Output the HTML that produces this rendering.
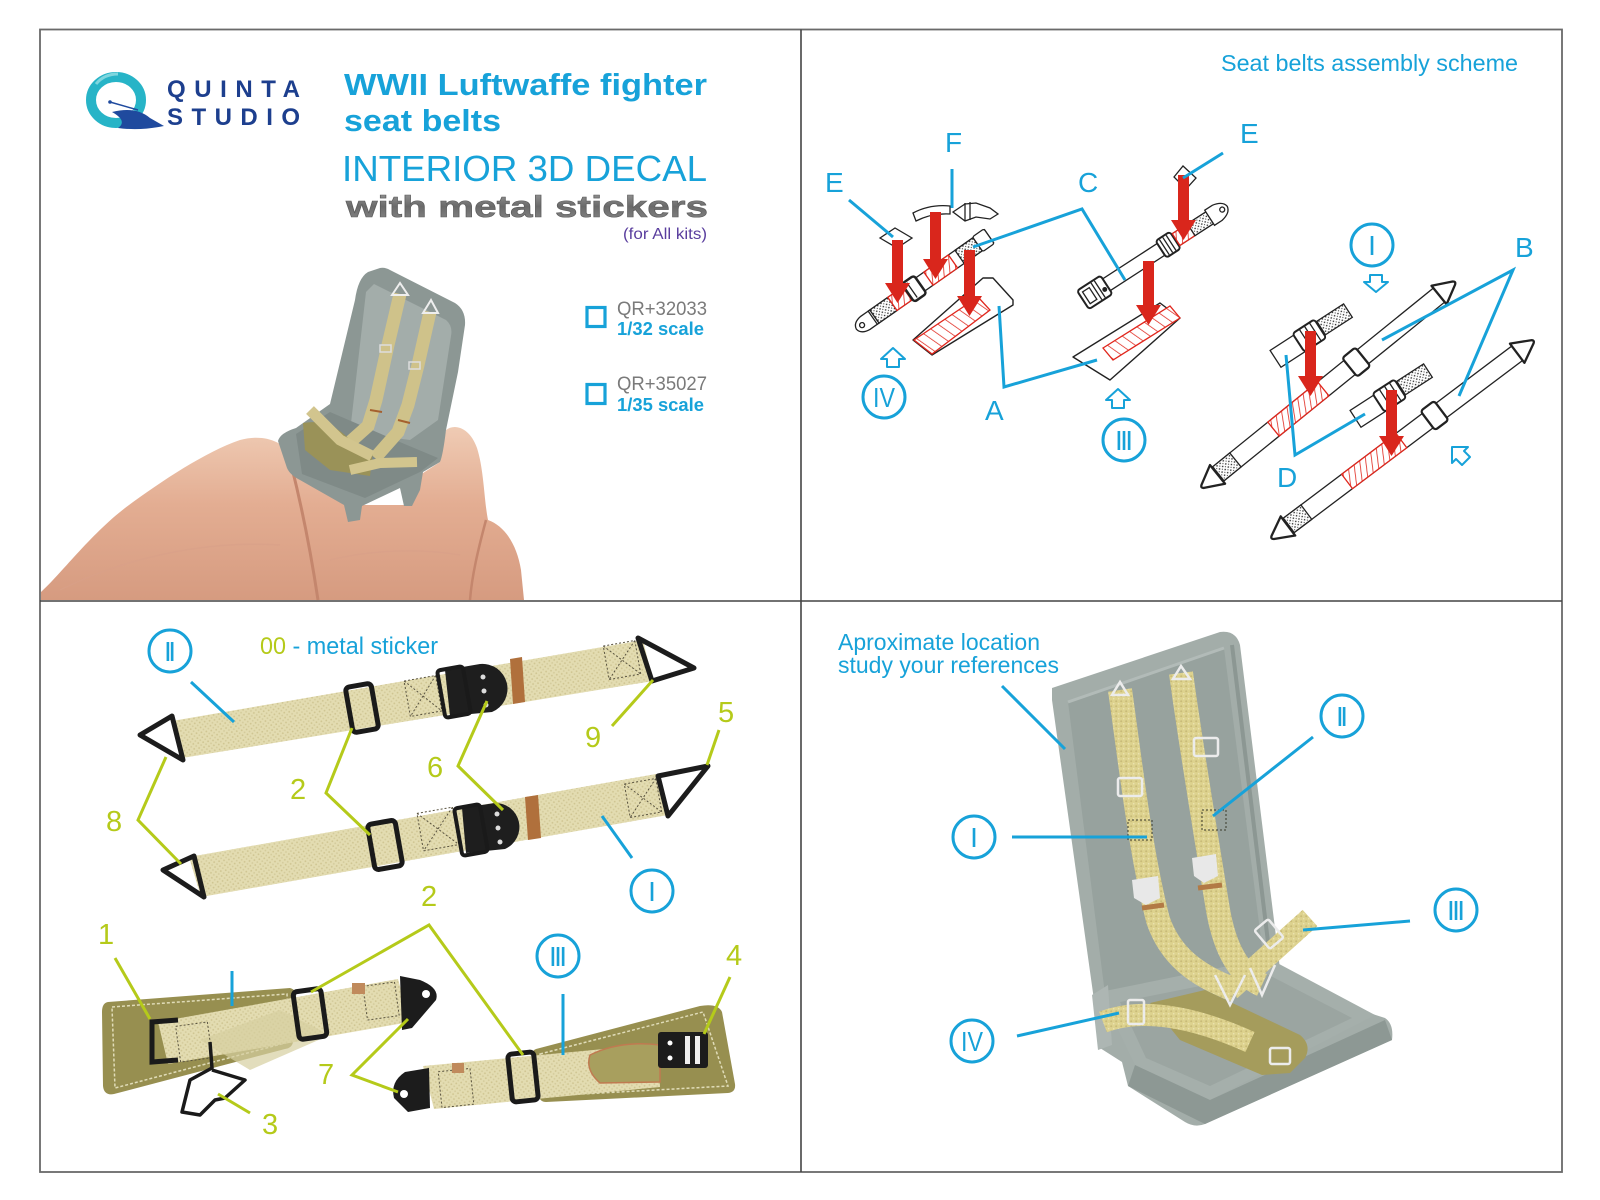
<!DOCTYPE html>
<html><head><meta charset="utf-8">
<style>
html,body{margin:0;padding:0;background:#fff;}
svg{display:block;}
text{font-family:"Liberation Sans",Arial,sans-serif;}
</style></head><body>
<svg width="1600" height="1200" viewBox="0 0 1600 1200" xmlns="http://www.w3.org/2000/svg">
<defs>
  <pattern id="hatchS" width="6" height="6" patternUnits="userSpaceOnUse" patternTransform="rotate(30)">
    <rect width="6" height="6" fill="#fff"/>
    <line x1="0" y1="0" x2="0" y2="6" stroke="#e0261c" stroke-width="1.6"/>
  </pattern>
  <pattern id="hatchP" width="8" height="8" patternUnits="userSpaceOnUse" patternTransform="rotate(-55)">
    <rect width="8" height="8" fill="#fff"/>
    <line x1="0" y1="0" x2="0" y2="8" stroke="#e0261c" stroke-width="1.5"/>
  </pattern>
  <pattern id="dots" width="4" height="4" patternUnits="userSpaceOnUse">
    <rect width="4" height="4" fill="#fff"/>
    <circle cx="1" cy="1" r="0.8" fill="#222"/>
    <circle cx="3" cy="3" r="0.6" fill="#444"/>
  </pattern>
  <pattern id="weave" width="5" height="5" patternUnits="userSpaceOnUse" patternTransform="rotate(-10)">
    <rect width="5" height="5" fill="#e3dcb1"/>
    <circle cx="1.2" cy="1.2" r="0.9" fill="#cfc592"/>
    <circle cx="3.7" cy="3.7" r="0.9" fill="#d4cb9c"/>
  </pattern>
  <pattern id="weave2" width="5" height="5" patternUnits="userSpaceOnUse">
    <rect width="5" height="5" fill="#ddd28e"/>
    <circle cx="1.2" cy="1.2" r="1" fill="#c9bb78"/>
    <circle cx="3.7" cy="3.7" r="0.8" fill="#ece3b0"/>
  </pattern>
  <linearGradient id="skin" x1="0" y1="0" x2="0" y2="1">
    <stop offset="0" stop-color="#efcbb4"/>
    <stop offset="0.45" stop-color="#e3ad92"/>
    <stop offset="1" stop-color="#d69b80"/>
  </linearGradient>
  <linearGradient id="metal" x1="0" y1="0" x2="0" y2="1">
    <stop offset="0" stop-color="#a0a0a0"/>
    <stop offset="0.5" stop-color="#6a6a6a"/>
    <stop offset="1" stop-color="#8a8a8a"/>
  </linearGradient>
</defs>

<!-- frame -->
<rect x="40" y="29.5" width="1522" height="1142.5" fill="none" stroke="#6a6a6a" stroke-width="1.8"/>
<line x1="801" y1="29.5" x2="801" y2="1172" stroke="#444" stroke-width="1.6"/>
<line x1="40" y1="601" x2="1562" y2="601" stroke="#444" stroke-width="1.6"/>

<!-- ================= TOP LEFT ================= -->
<!-- logo -->
<ellipse cx="116" cy="100" rx="25" ry="23" fill="none" stroke="#27b4c7" stroke-width="10"/>
<path d="M96,84 Q104,74 118,74" fill="none" stroke="#7fd6de" stroke-width="3"/>
<path d="M133,110 L150,118 L150,132 L128,130 Z" fill="#fff"/>
<path d="M112,112 Q136,106 150,118 L164,126 Q140,131 118,128 Q128,121 112,112 Z" fill="#1f4a9e"/>
<line x1="110" y1="102" x2="138" y2="110" stroke="#1f4a9e" stroke-width="1.5"/>
<circle cx="110" cy="102" r="1.8" fill="#1f4a9e"/>
<text x="167" y="97" font-size="24" font-weight="bold" fill="#1d3f8e" textLength="133" lengthAdjust="spacing">QUINTA</text>
<text x="167" y="125" font-size="24" font-weight="bold" fill="#1d3f8e" textLength="133" lengthAdjust="spacing">STUDIO</text>

<text x="344" y="95" font-size="31" font-weight="bold" fill="#17a2d9" textLength="363" lengthAdjust="spacingAndGlyphs">WWII Luftwaffe fighter</text>
<text x="344" y="131" font-size="31" font-weight="bold" fill="#17a2d9" textLength="157" lengthAdjust="spacingAndGlyphs">seat belts</text>
<text x="342" y="181" font-size="36" fill="#17a2d9" textLength="365" lengthAdjust="spacingAndGlyphs">INTERIOR 3D DECAL</text>
<text x="346" y="217" font-size="31" font-weight="bold" fill="url(#metal)" stroke="#5c5c5c" stroke-width="0.6" textLength="362" lengthAdjust="spacingAndGlyphs">with metal stickers</text>
<text x="623" y="239" font-size="16" fill="#5a3e9e" textLength="84" lengthAdjust="spacingAndGlyphs">(for All kits)</text>

<rect x="587" y="307.5" width="18" height="19" fill="none" stroke="#17a2d9" stroke-width="3.2"/>
<text x="617" y="315" font-size="19" fill="#7a7a7a" textLength="90" lengthAdjust="spacingAndGlyphs">QR+32033</text>
<text x="617" y="335" font-size="18" font-weight="bold" fill="#17a2d9" textLength="87" lengthAdjust="spacingAndGlyphs">1/32 scale</text>
<rect x="587" y="384.5" width="18" height="19" fill="none" stroke="#17a2d9" stroke-width="3.2"/>
<text x="617" y="390" font-size="19" fill="#7a7a7a" textLength="90" lengthAdjust="spacingAndGlyphs">QR+35027</text>
<text x="617" y="411" font-size="18" font-weight="bold" fill="#17a2d9" textLength="87" lengthAdjust="spacingAndGlyphs">1/35 scale</text>

<!-- hand -->
<path d="M41,600 L41,592 C60,575 90,535 125,508 C160,482 205,452 240,440 C262,434 282,440 292,456 L300,478 L360,505 L405,505 L420,475 L440,462 L446,430 C455,423 470,428 477,448 C484,470 484,500 488,520 C505,526 517,545 521,570 L524,600 Z" fill="url(#skin)"/>
<path d="M292,468 C305,520 312,560 318,600" fill="none" stroke="#c4866d" stroke-width="3"/>
<path d="M486,520 C478,550 472,575 470,600" fill="none" stroke="#c4866d" stroke-width="2.5"/>
<path d="M60,590 C120,560 200,540 280,545" fill="none" stroke="#d8a088" stroke-width="1.5" opacity="0.6"/>
<path d="M330,560 C370,550 420,548 460,555" fill="none" stroke="#d8a088" stroke-width="1.5" opacity="0.6"/>

<!-- seat photo top-left -->
<path d="M368,272 L380,268 Q385,267 390,270 L455,303 Q466,310 465,325 L458,372 L446,430 Q443,455 440,462 L423,472 L420,490 L412,506 L404,506 L400,488 L362,506 L360,520 L348,522 L344,505 L300,480 Q290,475 287,468 L278,441 Q280,433 296,428 L330,404 L355,300 Q358,278 368,272 Z" fill="#8c9794"/>
<path d="M374,284 L446,320 Q453,326 451,336 L438,420 L410,440 L350,432 L366,292 Z" fill="#a3adaa"/>
<path d="M296,434 L330,412 L395,440 L438,458 L420,472 L365,498 L302,474 Z" fill="#7f8a87"/>
<path d="M400,294 L388,345 L376,400 L368,426 L350,442" fill="none" stroke="#cfc28a" stroke-width="13"/>
<path d="M430,312 L418,365 L408,405 L398,432 L375,458" fill="none" stroke="#cfc28a" stroke-width="13"/>
<path d="M303,423 Q330,418 350,440 L373,452 L370,476 L330,470 L305,450 Z" fill="#9a9258"/>
<path d="M310,410 L340,440 L372,456" fill="none" stroke="#d2c58e" stroke-width="11"/>
<path d="M417,462 L380,463 L350,470" fill="none" stroke="#d2c58e" stroke-width="10"/>
<polygon points="392,295 400,283 408,295" fill="none" stroke="#eee" stroke-width="2"/>
<polygon points="423,313 431,300 438,313" fill="none" stroke="#eee" stroke-width="2"/>
<rect x="380" y="345" width="11" height="7" fill="none" stroke="#ddd" stroke-width="1.5"/>
<rect x="409" y="362" width="11" height="7" fill="none" stroke="#ddd" stroke-width="1.5"/>
<line x1="370" y1="410" x2="382" y2="412" stroke="#a5602e" stroke-width="2"/>
<line x1="398" y1="420" x2="410" y2="423" stroke="#a5602e" stroke-width="2"/>

<!-- ================= TOP RIGHT ================= -->
<text x="1221" y="71" font-size="23" fill="#17a2d9" textLength="297" lengthAdjust="spacingAndGlyphs">Seat belts assembly scheme</text>

<!-- pads -->
<path d="M913,340 L983,278 L993,278 L1013,300 L1013,305 L932,355 Z" fill="#fff" stroke="#222" stroke-width="1.4" stroke-linejoin="round"/>
<path d="M914,340 L978,297 L990,310 L932,354 Z" fill="url(#hatchP)" stroke="#e0261c" stroke-width="1.3"/>
<path d="M1073,357 L1160,303 L1180,318 L1110,380 Z" fill="#fff" stroke="#222" stroke-width="1.4" stroke-linejoin="round"/>
<path d="M1103,348 L1170,306 L1180,318 L1113,360 Z" fill="url(#hatchP)" stroke="#e0261c" stroke-width="1.3"/>

<!-- belt IV -->
<g transform="translate(858,328) rotate(-35)" stroke="#222" stroke-width="1.3">
  <path d="M20,-8 L9,-8 Q-1,-7 -2,0 Q-1,7 9,8 L20,8 Z" fill="#fff"/>
  <circle cx="5" cy="0" r="2.5" fill="#fff"/>
  <rect x="18" y="-8" width="142" height="16" fill="#fff"/>
  <rect x="20" y="-8" width="22" height="16" fill="url(#dots)"/>
  <rect x="42" y="-8" width="18" height="16" fill="url(#hatchS)" stroke="#e0261c"/>
  <rect x="61" y="-11" width="15" height="22" rx="3" fill="#fff" stroke-width="2.5"/>
  <line x1="66" y1="-9" x2="66" y2="9"/>
  <rect x="86" y="-8" width="30" height="16" fill="url(#hatchS)" stroke="#e0261c"/>
  <rect x="124" y="-8" width="22" height="16" fill="url(#dots)"/>
  <rect x="146" y="-9" width="14" height="18" rx="2" fill="#fff"/>
</g>
<polygon points="880,238 895,228 912,238 897,248" fill="#fff" stroke="#222" stroke-width="1.3"/>
<path d="M913,213 Q930,204 950,206 L950,214 Q932,213 916,221 Z" fill="#fff" stroke="#222" stroke-width="1.3"/>
<path d="M953,212 L965,204 L976,203 L990,208 L998,214 L990,219 L976,217 L965,221 Z" fill="#fff" stroke="#222" stroke-width="1.3"/>
<line x1="965" y1="203" x2="965" y2="221" stroke="#222" stroke-width="1.3"/>
<line x1="970" y1="202" x2="970" y2="220" stroke="#222" stroke-width="1.3"/>

<!-- belt C -->
<g transform="translate(1083,300) rotate(-33)" stroke="#222" stroke-width="1.3">
  <rect x="26" y="-7" width="126" height="14" fill="#fff"/>
  <rect x="0" y="-11" width="28" height="22" rx="3" fill="#fff" stroke-width="2"/>
  <rect x="4" y="-7" width="8" height="14" fill="none"/>
  <line x1="16" y1="-10" x2="16" y2="10"/><line x1="20" y1="-10" x2="20" y2="10"/>
  <circle cx="24" cy="3" r="1.8" fill="#222"/>
  <rect x="93" y="-10" width="17" height="20" rx="3" fill="#fff" stroke-width="2"/>
  <line x1="97" y1="-9" x2="97" y2="9"/><line x1="101" y1="-9" x2="101" y2="9"/><line x1="105" y1="-9" x2="105" y2="9"/>
  <rect x="111" y="-7" width="18" height="14" fill="url(#hatchS)" stroke="#e0261c"/>
  <rect x="129" y="-7" width="22" height="14" fill="url(#dots)"/>
  <path d="M151,-9 L160,-9 Q171,-7 172,0 Q171,7 160,9 L151,9 Z" fill="#fff"/>
  <circle cx="166" cy="0" r="2.5" fill="#fff"/>
</g>
<polygon points="1174,177 1183,166 1196,178 1186,189" fill="#fff" stroke="#222" stroke-width="1.3"/>

<!-- long B straps -->
<g transform="translate(1202,487) rotate(-39)" stroke="#222" stroke-width="1.3">
  <rect x="18" y="-9" width="288" height="18" fill="#fff"/>
  <path d="M20,-12 L20,12 L1,2 Q-2,0 1,-2 Z" fill="#fff" stroke-width="2.3" stroke-linejoin="round"/>
  <rect x="21" y="-9" width="22" height="18" fill="url(#dots)"/>
  <rect x="92" y="-9" width="64" height="18" fill="url(#hatchS)" stroke="#e0261c"/>
  <rect x="190" y="-12" width="17" height="24" rx="3" fill="#fff" stroke-width="2.3"/>
  <path d="M305,-12 L305,12 L324,2 Q327,0 324,-2 Z" fill="#fff" stroke-width="2.3" stroke-linejoin="round"/>
</g>
<g transform="translate(1272,538) rotate(-37)" stroke="#222" stroke-width="1.3">
  <rect x="18" y="-9" width="290" height="18" fill="#fff"/>
  <path d="M20,-12 L20,12 L1,2 Q-2,0 1,-2 Z" fill="#fff" stroke-width="2.3" stroke-linejoin="round"/>
  <rect x="21" y="-9" width="22" height="18" fill="url(#dots)"/>
  <rect x="94" y="-9" width="68" height="18" fill="url(#hatchS)" stroke="#e0261c"/>
  <rect x="195" y="-12" width="17" height="24" rx="3" fill="#fff" stroke-width="2.3"/>
  <path d="M307,-12 L307,12 L326,2 Q329,0 326,-2 Z" fill="#fff" stroke-width="2.3" stroke-linejoin="round"/>
</g>
<!-- short D straps -->
<g transform="translate(1275,358) rotate(-33)" stroke="#222" stroke-width="1.3">
  <rect x="0" y="-9" width="30" height="20" fill="#fff"/>
  <rect x="28" y="-11" width="26" height="22" rx="3" fill="#fff" stroke-width="2"/>
  <line x1="36" y1="-11" x2="36" y2="11"/><line x1="42" y1="-11" x2="42" y2="11"/><line x1="48" y1="-11" x2="48" y2="11"/>
  <rect x="55" y="-8" width="32" height="16" fill="url(#dots)"/>
</g>
<g transform="translate(1355,418) rotate(-33)" stroke="#222" stroke-width="1.3">
  <rect x="0" y="-9" width="30" height="20" fill="#fff"/>
  <rect x="28" y="-11" width="26" height="22" rx="3" fill="#fff" stroke-width="2"/>
  <line x1="36" y1="-11" x2="36" y2="11"/><line x1="42" y1="-11" x2="42" y2="11"/><line x1="48" y1="-11" x2="48" y2="11"/>
  <rect x="55" y="-8" width="32" height="16" fill="url(#dots)"/>
</g>

<!-- red arrows -->
<g fill="#d9261c">
  <path d="M892,240 h11 v43 h7 l-12.5,20 l-12.5,-20 h7 z"/>
  <path d="M930,212 h11 v47 h7 l-12.5,20 l-12.5,-20 h7 z"/>
  <path d="M964,250 h11 v46 h7 l-12.5,20 l-12.5,-20 h7 z"/>
  <path d="M1178,175 h11 v45 h7 l-12.5,20 l-12.5,-20 h7 z"/>
  <path d="M1143,261 h11 v44 h7 l-12.5,20 l-12.5,-20 h7 z"/>
  <path d="M1305,331 h11 v45 h7 l-12.5,20 l-12.5,-20 h7 z"/>
  <path d="M1386,390 h11 v46 h7 l-12.5,20 l-12.5,-20 h7 z"/>
</g>

<!-- outline arrows -->
<g fill="#fff" stroke="#17a2d9" stroke-width="2" stroke-linejoin="round">
  <path d="M1370,275 h12 v7 h6 l-12,10 l-12,-10 h6 z"/>
  <path d="M887,367 v-8 h-6 l12,-11 l12,11 h-6 v8 z"/>
  <path d="M1112,408 v-8 h-6 l12,-11 l12,11 h-6 v8 z"/>
  <path d="M1462,465 l-6,-6 l-4,4 l0,-16 l16,0 l-4,4 l6,6 z"/>
</g>

<!-- cyan leaders top-right -->
<g fill="none" stroke="#17a2d9" stroke-width="3" stroke-linejoin="miter">
  <polyline points="849,200 893,237"/>
  <polyline points="952,169 952,208"/>
  <polyline points="973,247 1082,209 1125,280"/>
  <polyline points="1223,153 1183,178"/>
  <polyline points="999,306 1004,387 1097,360"/>
  <polyline points="1382,340 1513,270 1459,396"/>
  <polyline points="1286,355 1295,455 1365,414"/>
</g>
<g fill="#17a2d9" font-size="28">
  <text x="825" y="192">E</text>
  <text x="945" y="152">F</text>
  <text x="1078" y="192">C</text>
  <text x="1240" y="143">E</text>
  <text x="1515" y="257">B</text>
  <text x="985" y="420">A</text>
  <text x="1277" y="487">D</text>
</g>
<g fill="none" stroke="#17a2d9" stroke-width="3">
  <circle cx="1372" cy="245" r="21"/>
  <circle cx="884" cy="397" r="21"/>
  <circle cx="1124" cy="440" r="21"/>
</g>
<g fill="#17a2d9" font-size="28" text-anchor="middle">
  <text x="1372" y="255">I</text>
  <text x="884" y="407" textLength="22" lengthAdjust="spacingAndGlyphs">IV</text>
  <text x="1124" y="450" textLength="18" lengthAdjust="spacing">III</text>
</g>

<!-- ================= BOTTOM LEFT ================= -->
<text x="260" y="654" font-size="24" textLength="178" lengthAdjust="spacingAndGlyphs"><tspan fill="#b5ca1a">00</tspan><tspan fill="#17a2d9"> - metal sticker</tspan></text>

<!-- strap II -->
<polygon points="172,721 643,640 653,681 182,758" fill="url(#weave)"/>
<polygon points="140,735 172,716 183,760" fill="none" stroke="#1c1c1c" stroke-width="5" stroke-linejoin="round"/>
<polygon points="638,638 694,668 652,681" fill="none" stroke="#1c1c1c" stroke-width="5" stroke-linejoin="round"/>
<rect x="349" y="685" width="26" height="46" rx="4" transform="rotate(-10 362 708)" fill="none" stroke="#1a1a1a" stroke-width="5"/>
<g transform="rotate(-10 423 696)" stroke="#5a5440" stroke-width="1" fill="none">
  <rect x="407" y="678" width="32" height="36" stroke-dasharray="2,2"/>
  <line x1="407" y1="678" x2="439" y2="714" stroke-dasharray="2,2"/><line x1="439" y1="678" x2="407" y2="714" stroke-dasharray="2,2"/>
</g>
<path d="M445,670 L480,664 A25,25 0 0 1 492,712 L450,716 Z" fill="#1e1e1e"/>
<rect x="441" y="668" width="26" height="48" rx="3" transform="rotate(-10 454 692)" fill="none" stroke="#1a1a1a" stroke-width="4"/>
<circle cx="483" cy="677" r="2.5" fill="#ddd"/><circle cx="484" cy="691" r="2.5" fill="#ddd"/><circle cx="486" cy="705" r="2.5" fill="#ddd"/>
<polygon points="510,659 522,657 525,702 513,704" fill="#b0703c"/>
<g transform="rotate(-10 622 660)" stroke="#5a5440" stroke-width="1" fill="none" stroke-dasharray="2,2">
  <rect x="606" y="643" width="32" height="34"/>
  <line x1="606" y1="643" x2="638" y2="677"/><line x1="638" y1="643" x2="606" y2="677"/>
</g>

<!-- strap I -->
<polygon points="189,857 656,774 668,815 201,897" fill="url(#weave)"/>
<polygon points="163,870 194,856 204,897" fill="none" stroke="#1c1c1c" stroke-width="5" stroke-linejoin="round"/>
<polygon points="658,776 708,766 668,816" fill="none" stroke="#1c1c1c" stroke-width="5" stroke-linejoin="round"/>
<rect x="371" y="822" width="28" height="46" rx="4" transform="rotate(-10 385 845)" fill="none" stroke="#1a1a1a" stroke-width="5"/>
<g transform="rotate(-10 438 829)" stroke="#5a5440" stroke-width="1" fill="none" stroke-dasharray="2,2">
  <rect x="420" y="810" width="36" height="38"/>
  <line x1="420" y1="810" x2="456" y2="848"/><line x1="456" y1="810" x2="420" y2="848"/>
</g>
<path d="M462,808 L495,803 A24,24 0 0 1 505,849 L466,853 Z" fill="#1e1e1e"/>
<rect x="458" y="806" width="26" height="48" rx="3" transform="rotate(-10 471 830)" fill="none" stroke="#1a1a1a" stroke-width="4"/>
<circle cx="497" cy="814" r="2.5" fill="#ddd"/><circle cx="498" cy="828" r="2.5" fill="#ddd"/><circle cx="500" cy="842" r="2.5" fill="#ddd"/>
<polygon points="525,797 538,795 541,838 528,840" fill="#b0703c"/>
<g transform="rotate(-10 643 798)" stroke="#5a5440" stroke-width="1" fill="none" stroke-dasharray="2,2">
  <rect x="627" y="781" width="32" height="34"/>
  <line x1="627" y1="781" x2="659" y2="815"/><line x1="659" y1="781" x2="627" y2="815"/>
</g>

<!-- left pad -->
<path d="M108,1002 L290,988 Q297,990 296,997 L293,1042 Q292,1048 285,1049 L114,1094 Q104,1096 103,1086 L102,1012 Q102,1003 108,1002 Z" fill="#978f50"/>
<path d="M112,1007 L287,994 L289,1042 L115,1088 Z" fill="none" stroke="#e0dcb8" stroke-width="1.5" stroke-dasharray="3,2"/>
<polygon points="158,1022 398,979 410,1022 168,1064" fill="url(#weave)"/>
<polygon points="200,1040 280,1010 330,1035 250,1070" fill="#d6cea0" opacity="0.7"/>
<g stroke="#5a5440" stroke-width="1" fill="none" stroke-dasharray="2,2">
  <rect x="178" y="1024" width="32" height="36" transform="rotate(-8 194 1042)"/>
  <rect x="365" y="984" width="32" height="34" transform="rotate(-8 381 1001)"/>
</g>
<rect x="296" y="990" width="28" height="48" rx="4" transform="rotate(-8 310 1014)" fill="none" stroke="#1a1a1a" stroke-width="5"/>
<path d="M178,1020 L152,1022 L152,1062 L178,1060" fill="none" stroke="#1a1a1a" stroke-width="5"/>
<path d="M400,976 L420,980 Q440,988 436,1000 L412,1028 L402,1030 Z" fill="#1c1c1c"/>
<circle cx="426" cy="994" r="4" fill="#fff"/>
<rect x="352" y="983" width="13" height="11" fill="#c08a5c"/>
<path d="M210,1042 L212,1068 L190,1080 L182,1112 L200,1115 L215,1100 L225,1098 L245,1080 L212,1070" fill="none" stroke="#1a1a1a" stroke-width="3.5" stroke-linejoin="round"/>

<!-- right pad -->
<path d="M536,1049 L700,1006 Q718,1003 722,1012 L735,1084 Q736,1092 728,1093 L546,1102 Q540,1102 539,1096 L532,1056 Q532,1050 536,1049 Z" fill="#978f50"/>
<path d="M540,1054 L703,1012 L728,1086 L546,1096 Z" fill="none" stroke="#e0dcb8" stroke-width="1.5" stroke-dasharray="3,2"/>
<polygon points="423,1066 658,1044 660,1087 434,1109" fill="url(#weave)"/>
<path d="M590,1055 Q620,1040 660,1045 L660,1082 L600,1083 Q585,1070 590,1055 Z" fill="#a89f5e" stroke="#c07a50" stroke-width="1.5"/>
<g stroke="#5a5440" stroke-width="1" fill="none" stroke-dasharray="2,2">
  <rect x="440" y="1070" width="32" height="36" transform="rotate(-6 456 1088)"/>
</g>
<rect x="510" y="1053" width="26" height="48" rx="4" transform="rotate(-6 523 1077)" fill="none" stroke="#1a1a1a" stroke-width="5"/>
<rect x="658" y="1032" width="50" height="36" rx="3" fill="#1c1c1c"/>
<rect x="685" y="1036" width="5" height="28" fill="#eee"/><rect x="695" y="1036" width="5" height="28" fill="#eee"/>
<circle cx="670" cy="1043" r="2.5" fill="#fff"/><circle cx="670" cy="1058" r="2.5" fill="#fff"/>
<path d="M429,1068 L405,1072 Q390,1082 394,1098 L408,1112 L430,1108 Z" fill="#1c1c1c"/>
<circle cx="404" cy="1094" r="4" fill="#fff"/>
<rect x="452" y="1063" width="12" height="10" fill="#c08a5c"/>

<!-- leaders bottom-left -->
<g fill="none" stroke="#b5ca1a" stroke-width="3" stroke-linejoin="miter">
  <polyline points="166,757 138,820 181,864"/>
  <polyline points="352,728 326,793 370,835"/>
  <polyline points="487,701 458,766 503,810"/>
  <polyline points="612,726 653,680"/>
  <polyline points="719,730 707,765"/>
  <polyline points="311,992 429,925 523,1055"/>
  <polyline points="115,958 150,1019"/>
  <polyline points="408,1019 352,1075 398,1092"/>
  <polyline points="218,1094 250,1113"/>
  <polyline points="730,977 704,1034"/>
</g>
<g fill="#b5ca1a" font-size="29">
  <text x="106" y="831">8</text>
  <text x="290" y="799">2</text>
  <text x="427" y="777">6</text>
  <text x="585" y="747">9</text>
  <text x="718" y="722">5</text>
  <text x="421" y="906">2</text>
  <text x="98" y="944">1</text>
  <text x="726" y="965">4</text>
  <text x="318" y="1084">7</text>
  <text x="262" y="1134">3</text>
</g>
<g fill="none" stroke="#17a2d9" stroke-width="3">
  <line x1="191" y1="682" x2="234" y2="722"/>
  <line x1="602" y1="816" x2="632" y2="858"/>
  <line x1="232" y1="971" x2="232" y2="1006"/>
  <line x1="563" y1="994" x2="563" y2="1055"/>
  <circle cx="170" cy="651" r="21"/>
  <circle cx="652" cy="891" r="21"/>
  <circle cx="558" cy="956" r="21"/>
</g>
<g fill="#17a2d9" font-size="28" text-anchor="middle">
  <text x="170" y="661" textLength="12" lengthAdjust="spacing">II</text>
  <text x="652" y="901">I</text>
  <text x="558" y="966" textLength="18" lengthAdjust="spacing">III</text>
</g>

<!-- ================= BOTTOM RIGHT ================= -->
<text x="838" y="650" font-size="23" fill="#17a2d9" textLength="202" lengthAdjust="spacingAndGlyphs">Aproximate location</text>
<text x="838" y="673" font-size="23" fill="#17a2d9" textLength="221" lengthAdjust="spacingAndGlyphs">study your references</text>

<!-- seat -->
<path d="M1052,688 L1220,632 Q1236,630 1240,645 L1282,985 L1385,1018 Q1394,1024 1392,1040 L1205,1124 Q1195,1128 1185,1122 L1128,1086 L1122,1062 L1100,1048 L1094,1000 L1052,700 Z" fill="#a3ada9"/>
<path d="M1068,702 L1224,648 L1266,978 L1106,1002 Z" fill="#97a29e"/>
<path d="M1068,702 L1224,648" stroke="#b2bbb8" stroke-width="3"/>
<path d="M1232,645 L1272,975" stroke="#8c9793" stroke-width="4"/>
<path d="M1100,992 L1268,958 L1375,1015 L1210,1100 L1135,1065 Z" fill="#a5afab"/>
<path d="M1120,1002 L1265,973 L1352,1018 L1210,1086 L1146,1058 Z" fill="#9ba5a1"/>
<path d="M1135,1065 L1210,1100 L1385,1020 L1392,1040 L1205,1124 L1128,1086 Z" fill="#8d9894"/>
<path d="M1092,995 L1108,985 L1112,1045 L1098,1050 Z" fill="#adb6b3"/>

<!-- straps on seat -->
<path d="M1120,690 C1130,760 1140,850 1158,920 C1170,955 1195,975 1235,990" fill="none" stroke="url(#weave2)" stroke-width="24"/>
<path d="M1181,673 C1190,740 1205,830 1218,910 C1225,950 1240,975 1262,985" fill="none" stroke="url(#weave2)" stroke-width="24"/>
<path d="M1150,1003 L1205,990 L1300,1035 Q1312,1045 1305,1058 L1290,1073 L1262,1075 L1180,1040 Z" fill="#a59c5c"/>
<path d="M1230,990 L1310,918" fill="none" stroke="url(#weave2)" stroke-width="22"/>
<path d="M1103,1022 C1140,1008 1190,1015 1250,1042" fill="none" stroke="url(#weave2)" stroke-width="22"/>
<g fill="none" stroke="#ececec" stroke-width="2.5">
  <polygon points="1112,695 1120,682 1128,695"/>
  <polygon points="1173,679 1181,666 1190,679"/>
  <rect x="1118" y="778" width="24" height="18" rx="2"/>
  <rect x="1194" y="738" width="24" height="18" rx="2"/>
  <rect x="1260" y="922" width="18" height="24" rx="2" transform="rotate(-40 1269 934)"/>
  <rect x="1128" y="1000" width="16" height="24" rx="2"/>
  <rect x="1270" y="1048" width="20" height="16" rx="2"/>
  <path d="M1215,975 L1230,1005 L1245,975"/>
  <path d="M1250,968 L1262,995 L1275,965"/>
</g>
<g fill="#e8e8e8">
  <path d="M1132,880 L1158,876 L1160,898 L1146,905 L1134,898 Z"/>
  <path d="M1192,858 L1216,854 L1218,876 L1204,883 L1194,876 Z"/>
</g>
<line x1="1142" y1="908" x2="1164" y2="905" stroke="#b27a45" stroke-width="5"/>
<line x1="1198" y1="888" x2="1222" y2="885" stroke="#b27a45" stroke-width="5"/>
<g stroke="#3a3a2a" stroke-width="1" fill="none" stroke-dasharray="2,2">
  <rect x="1128" y="820" width="24" height="20"/>
  <rect x="1202" y="810" width="24" height="20"/>
</g>

<!-- leaders bottom-right -->
<g fill="none" stroke="#17a2d9" stroke-width="3">
  <line x1="1002" y1="686" x2="1065" y2="749"/>
  <line x1="1313" y1="737" x2="1213" y2="816"/>
  <line x1="1012" y1="837" x2="1147" y2="837"/>
  <line x1="1410" y1="921" x2="1303" y2="930"/>
  <line x1="1017" y1="1036" x2="1119" y2="1013"/>
  <circle cx="1342" cy="716" r="21"/>
  <circle cx="974" cy="837" r="21"/>
  <circle cx="1456" cy="910" r="21"/>
  <circle cx="972" cy="1041" r="21"/>
</g>
<g fill="#17a2d9" font-size="28" text-anchor="middle">
  <text x="1342" y="726" textLength="12" lengthAdjust="spacing">II</text>
  <text x="974" y="847">I</text>
  <text x="1456" y="920" textLength="18" lengthAdjust="spacing">III</text>
  <text x="972" y="1051" textLength="22" lengthAdjust="spacingAndGlyphs">IV</text>
</g>
</svg>
</body></html>
